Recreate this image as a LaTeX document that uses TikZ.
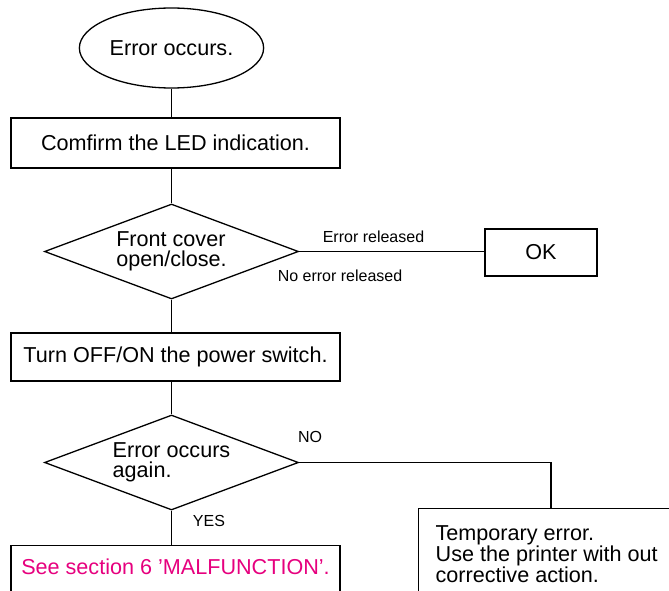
\documentclass[tikz,border=0pt]{standalone}
\usepackage{fontspec}
\setmainfont{Liberation Sans}
\usetikzlibrary{shapes.geometric}
\definecolor{malpink}{RGB}{230,0,126}
\newcommand{\mainsize}{\fontsize{21.6pt}{20pt}\selectfont}
\newcommand{\labsize}{\fontsize{16pt}{18pt}\selectfont}

\begin{document}
\begin{tikzpicture}[x=1pt, y=-1pt, line width=1.3pt,
    stepbox/.style={draw, rectangle, inner sep=0pt, font=\mainsize},
    ask/.style={draw, diamond, aspect=2.67, inner sep=0pt, minimum width=254pt, minimum height=95pt, align=left, font=\mainsize},
    branch/.style={font=\labsize, inner sep=0pt}]
  \useasboundingbox (0,0) rectangle (669,591);
  \clip (0,0) rectangle (669,591);

  % Start and checks
  \node[draw, ellipse, minimum width=178pt, minimum height=80pt, font=\mainsize] (start) at (171.5,48) {Error occurs.};
  \node[stepbox, minimum width=329pt, minimum height=50pt] (led) at (175.5,143) {Comfirm the LED indication.};
  \node[ask] (cover) at (171.5,251.5) {Front cover\\open/close.};
  \node[stepbox, minimum width=112pt, minimum height=47pt] (ok) at (541,252.5) {OK};
  \node[stepbox, minimum width=329pt, minimum height=48pt] (power) at (175.5,357) {Turn OFF/ON the power switch.};
  \node[ask] (again) at (171.5,462.5) {Error occurs\\again.};

  % Results, cut off by the page edge
  \node[stepbox, anchor=north, minimum width=329pt, text height=21pt, text depth=40pt, inner ysep=8pt, text=malpink] (mal) at (175.5,545) {See section 6 'MALFUNCTION'.};
  \node[stepbox, anchor=north west, minimum width=300pt, minimum height=120pt] (temp) at (418,508) {};
  \node[anchor=north west, align=left, inner sep=0pt, font=\fontsize{21.6pt}{15.5pt}\selectfont] (tempnote) at ([shift={(17,17)}]temp.north west) {Temporary error.\\Use the printer with out\\corrective action.};

  % Connectors
  \draw (start.south) -- (start.south |- led.north);
  \draw (start.south |- led.south) -- (cover.north);
  \draw (cover.east) -- (cover.east -| ok.west);
  \draw (cover.south) -- (cover.south |- power.north);
  \draw (cover.south |- power.south) -- (again.north);
  \draw (again.south) -- (again.south |- mal.north);
  \coordinate (nodrop) at (551,508);
  \draw (again.east) -| (nodrop);

  % Branch labels
  \node[branch] (rel) at (373.5,236.5) {Error released};
  \node[branch] (norel) at (340,276) {No error released};
  \node[branch] (no) at (310,437) {NO};
  \node[branch] (yes) at (209,521) {YES};
\end{tikzpicture}
\end{document}
